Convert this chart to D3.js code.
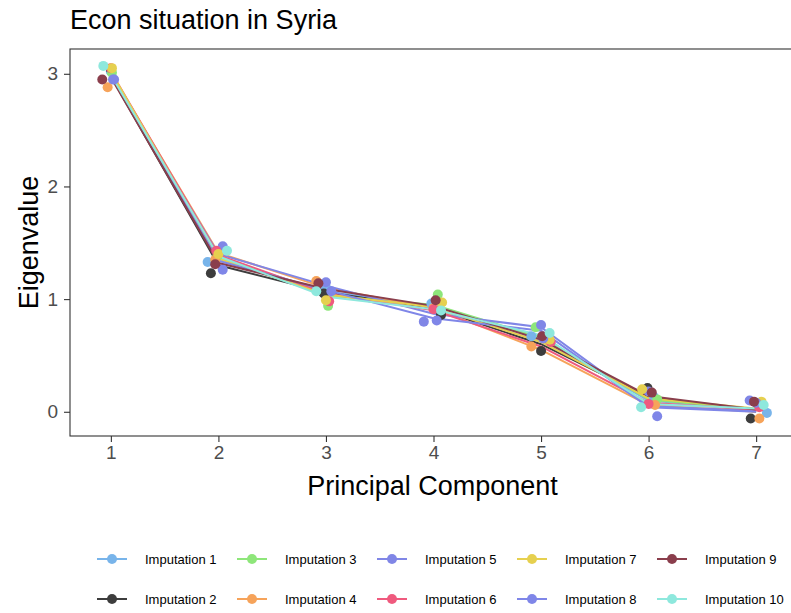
<!DOCTYPE html>
<html>
<head>
<meta charset="utf-8">
<script src="https://cdn.jsdelivr.net/npm/d3@7"></script>
<style>
  html, body { margin: 0; padding: 0; background: #fff; }
  svg { display: block; font-family: "Liberation Sans", Arial, Helvetica, sans-serif; }
</style>
</head>
<body>
<svg id="chart" width="791" height="613"></svg>
<script>
// Principal components on the x axis
const components = [1, 2, 3, 4, 5, 6, 7];
const xTicks = [1, 2, 3, 4, 5, 6, 7];
const yTicks = [0, 1, 2, 3];

const imputations = [
  "Imputation 1", "Imputation 2", "Imputation 3", "Imputation 4", "Imputation 5",
  "Imputation 6", "Imputation 7", "Imputation 8", "Imputation 9", "Imputation 10"
];
const colors = [
  "#78b4ea", "#3d3d3d", "#8ee67a", "#f6a35a", "#8086e6",
  "#ef5a7e", "#e6d04f", "#7f86e8", "#8a3e4c", "#8ee8dd"
];

// Eigenvalue per imputation (one row per imputation, one entry per component)
const eigen1  = [3.00, 1.36, 1.07, 0.93, 0.65, 0.10, 0.02];
const eigen2  = [2.98, 1.30, 1.06, 0.92, 0.60, 0.13, 0.00];
const eigen3  = [3.00, 1.38, 1.03, 0.95, 0.66, 0.11, 0.02];
const eigen4  = [3.01, 1.41, 1.10, 0.92, 0.55, 0.06, 0.00];
const eigen5  = [2.98, 1.40, 1.12, 0.87, 0.75, 0.05, 0.01];
const eigen6  = [3.02, 1.39, 1.05, 0.90, 0.58, 0.08, 0.02];
const eigen7  = [3.02, 1.36, 1.04, 0.93, 0.62, 0.12, 0.03];
const eigen8  = [2.98, 1.34, 1.08, 0.83, 0.72, 0.04, 0.00];
const eigen9  = [2.97, 1.32, 1.09, 0.94, 0.64, 0.14, 0.02];
const eigen10 = [2.99, 1.38, 1.02, 0.91, 0.68, 0.07, 0.03];
const eigenValues = [eigen1, eigen2, eigen3, eigen4, eigen5, eigen6, eigen7, eigen8, eigen9, eigen10];

// Jittered point positions (component coordinate and eigenvalue)
const pointX1  = [1.00, 1.90, 3.00, 3.98, 4.91, 6.05, 7.10];
const pointY1  = [3.02, 1.33, 1.10, 0.96, 0.67, 0.13, -0.01];
const pointX2  = [1.00, 1.93, 2.98, 4.07, 5.00, 5.99, 6.95];
const pointY2  = [3.04, 1.23, 1.05, 0.86, 0.54, 0.21, -0.06];
const pointX3  = [1.01, 1.99, 3.02, 4.04, 4.95, 6.08, 7.02];
const pointY3  = [3.01, 1.38, 0.94, 1.04, 0.75, 0.11, 0.06];
const pointX4  = [0.97, 1.97, 2.91, 4.00, 4.91, 6.06, 7.03];
const pointY4  = [2.88, 1.35, 1.16, 0.92, 0.58, 0.06, -0.06];
const pointX5  = [1.03, 2.04, 3.00, 3.91, 5.00, 6.00, 6.94];
const pointY5  = [2.95, 1.47, 1.15, 0.80, 0.77, 0.18, 0.10];
const pointX6  = [1.00, 1.98, 3.03, 4.00, 5.09, 6.00, 7.03];
const pointY6  = [3.05, 1.43, 0.98, 0.91, 0.62, 0.07, 0.04];
const pointX7  = [1.01, 2.00, 3.00, 4.08, 5.08, 5.94, 7.05];
const pointY7  = [3.05, 1.40, 0.99, 0.97, 0.64, 0.20, 0.09];
const pointX8  = [1.02, 2.04, 3.05, 4.03, 5.02, 6.08, 7.00];
const pointY8  = [2.95, 1.26, 1.07, 0.81, 0.65, -0.04, 0.08];
const pointX9  = [0.92, 1.97, 2.93, 4.02, 5.01, 6.03, 6.98];
const pointY9  = [2.95, 1.31, 1.14, 0.99, 0.67, 0.17, 0.09];
const pointX10 = [0.93, 2.08, 2.91, 4.07, 5.08, 5.93, 7.07];
const pointY10 = [3.07, 1.43, 1.07, 0.90, 0.70, 0.04, 0.06];
const pointXs = [pointX1, pointX2, pointX3, pointX4, pointX5, pointX6, pointX7, pointX8, pointX9, pointX10];
const pointYs = [pointY1, pointY2, pointY3, pointY4, pointY5, pointY6, pointY7, pointY8, pointY9, pointY10];

const svg = d3.select("#chart");

// Panel geometry
const panel = { left: 70, right: 797, top: 49, bottom: 436 };
const x = d3.scaleLinear().domain([0.62, 7.38]).range([panel.left, panel.right]);
const y = d3.scaleLinear().domain([-0.215, 3.22]).range([panel.bottom, panel.top]);

const axisColor = "#333333";
const tickTextColor = "#4d4d4d";

// Title
svg.append("text")
  .attr("x", 70).attr("y", 29)
  .attr("font-size", 27).attr("fill", "#000")
  .text("Econ situation in Syria");

// Plot layers clipped to the panel
svg.append("defs").append("clipPath").attr("id", "panelClip")
  .append("rect")
  .attr("x", panel.left).attr("y", panel.top)
  .attr("width", panel.right - panel.left).attr("height", panel.bottom - panel.top);

const plot = svg.append("g").attr("clip-path", "url(#panelClip)");

const line = d3.line()
  .x(d => x(d.pc))
  .y(d => y(d.v));

imputations.forEach((name, i) => {
  const series = components.map((pc, j) => ({ pc, v: eigenValues[i][j] }));
  plot.append("path")
    .datum(series)
    .attr("d", line)
    .attr("fill", "none")
    .attr("stroke", colors[i])
    .attr("stroke-width", 2)
    .attr("stroke-linejoin", "round");
});

imputations.forEach((name, i) => {
  const pts = components.map((pc, j) => ({ px: pointXs[i][j], py: pointYs[i][j] }));
  plot.selectAll(null)
    .data(pts)
    .enter().append("circle")
    .attr("cx", d => x(d.px))
    .attr("cy", d => y(d.py))
    .attr("r", 5)
    .attr("fill", colors[i]);
});

// Panel border
svg.append("rect")
  .attr("x", panel.left).attr("y", panel.top)
  .attr("width", panel.right - panel.left).attr("height", panel.bottom - panel.top)
  .attr("fill", "none").attr("stroke", axisColor).attr("stroke-width", 1.1);

// Axes
const xAxis = svg.append("g")
  .attr("transform", `translate(0,${panel.bottom})`)
  .call(d3.axisBottom(x).tickValues(xTicks).tickSize(6).tickPadding(4).tickFormat(d3.format("d")));
const yAxis = svg.append("g")
  .attr("transform", `translate(${panel.left},0)`)
  .call(d3.axisLeft(y).tickValues(yTicks).tickSize(6).tickPadding(6).tickFormat(d3.format("d")));

[xAxis, yAxis].forEach(g => {
  g.select(".domain").remove();
  g.selectAll(".tick line").attr("stroke", axisColor).attr("stroke-width", 1.1);
  g.selectAll(".tick text")
    .attr("fill", tickTextColor)
    .attr("font-size", 19)
    .attr("font-family", "'Liberation Sans', Arial, Helvetica, sans-serif");
});

// Axis titles
svg.append("text")
  .attr("x", (panel.left + 791) / 2 + 2).attr("y", 495)
  .attr("text-anchor", "middle")
  .attr("font-size", 27).attr("fill", "#000")
  .text("Principal Component");

svg.append("text")
  .attr("transform", `translate(38,${(panel.top + panel.bottom) / 2}) rotate(-90)`)
  .attr("text-anchor", "middle")
  .attr("font-size", 27).attr("fill", "#000")
  .text("Eigenvalue");

// Legend: two rows, filled column by column
const legend = svg.append("g");
const colStart = 97, colStep = 140, rowY = [559, 599];
imputations.forEach((name, i) => {
  const col = Math.floor(i / 2), row = i % 2;
  const kx = colStart + col * colStep, ky = rowY[row];
  const g = legend.append("g");
  g.append("line")
    .attr("x1", kx).attr("x2", kx + 30)
    .attr("y1", ky).attr("y2", ky)
    .attr("stroke", colors[i]).attr("stroke-width", 2);
  g.append("circle")
    .attr("cx", kx + 15).attr("cy", ky).attr("r", 5)
    .attr("fill", colors[i]);
  g.append("text")
    .attr("x", kx + 48).attr("y", ky + 4.5)
    .attr("font-size", 13).attr("fill", "#000")
    .text(name);
});
</script>
</body>
</html>
